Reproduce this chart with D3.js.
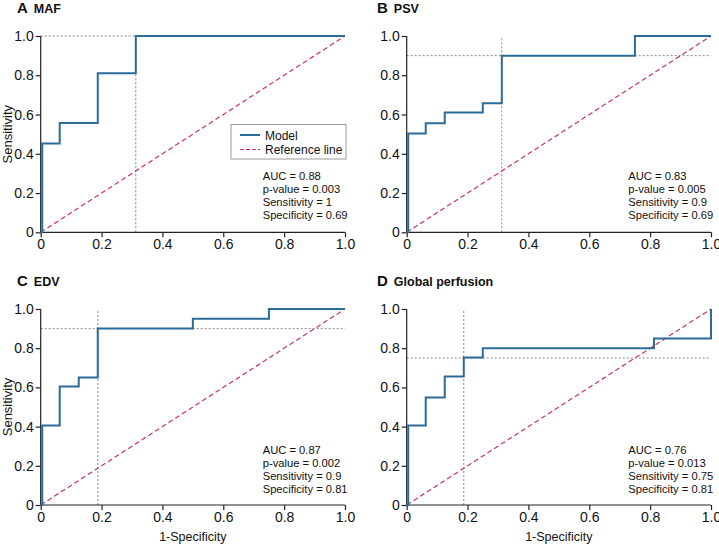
<!DOCTYPE html>
<html><head><meta charset="utf-8">
<script src="https://cdn.jsdelivr.net/npm/d3@7"></script>
<style>
body{margin:0;background:#fff;}
text{font-family:"Liberation Sans",Arial,sans-serif;}
</style></head>
<body><svg id="c" width="719" height="544"></svg>
<script>
// ---- data ----
const panelLetters = ["A","B","C","D"];
const panelTitles = ["MAF","PSV","EDV","Global perfusion"];
// ROC step points [1-specificity, sensitivity]
const rocMAF = [[0,0],[0.005,0],[0.005,0.453],[0.0625,0.453],[0.0625,0.557],[0.1875,0.557],[0.1875,0.81],[0.3125,0.81],[0.3125,1],[1,1]];
const rocPSV = [[0,0],[0.005,0],[0.005,0.503],[0.0625,0.503],[0.0625,0.555],[0.125,0.555],[0.125,0.61],[0.25,0.61],[0.25,0.657],[0.3125,0.657],[0.3125,0.9],[0.75,0.9],[0.75,1],[1,1]];
const rocEDV = [[0,0],[0.005,0],[0.005,0.405],[0.0625,0.405],[0.0625,0.604],[0.125,0.604],[0.125,0.651],[0.1875,0.651],[0.1875,0.9],[0.5,0.9],[0.5,0.95],[0.75,0.95],[0.75,1],[1,1]];
const rocGlobal = [[0,0],[0.005,0],[0.005,0.405],[0.0625,0.405],[0.0625,0.549],[0.125,0.549],[0.125,0.655],[0.1875,0.655],[0.1875,0.753],[0.25,0.753],[0.25,0.8],[0.8125,0.8],[0.8125,0.85],[1,0.85],[1,1]];
const cutX = [0.3125, 0.3125, 0.1875, 0.1875];   // 1-specificity at optimal cut-off
const cutY = [1, 0.9, 0.9, 0.75];                 // sensitivity at optimal cut-off
const aucVals = ["0.88","0.83","0.87","0.76"];
const pVals = ["0.003","0.005","0.002","0.013"];
const sensVals = ["1","0.9","0.9","0.75"];
const specVals = ["0.69","0.69","0.81","0.81"];
const tickVals = [0,0.2,0.4,0.6,0.8,1.0];
const tickLabels = ["0","0.2","0.4","0.6","0.8","1.0"];
const legendLabels = ["Model","Reference line"];
const xLabel = "1-Specificity", yLabel = "Sensitivity";

const rocs = [rocMAF, rocPSV, rocEDV, rocGlobal];
const blue = "#2b6b9b", pink = "#c8336f", grey = "#8a8a8a";

const svg = d3.select("#c");
const frames = [
  {x0:40.7,x1:345,y0:232.3,y1:36, ox:0, oy:0},
  {x0:406.7,x1:711,y0:232.3,y1:36, ox:360, oy:0},
  {x0:40.7,x1:345,y0:505,y1:309, ox:0, oy:273},
  {x0:406.7,x1:711,y0:505,y1:309, ox:360, oy:273}
];

frames.forEach((f,i)=>{
  const x = d3.scaleLinear().domain([0,1]).range([f.x0,f.x1]);
  const y = d3.scaleLinear().domain([0,1]).range([f.y0,f.y1]);
  const g = svg.append("g");

  // title
  const t = g.append("text").attr("x", f.ox+17).attr("y", f.oy+13).attr("font-weight","bold").attr("fill","#111");
  t.append("tspan").attr("font-size",15).text(panelLetters[i]);
  t.append("tspan").attr("font-size",12.5).attr("dx",6).text(panelTitles[i]);

  // dotted cut-off lines
  g.append("line").attr("x1",x(0)).attr("x2",x(1)).attr("y1",y(cutY[i])).attr("y2",y(cutY[i]))
    .attr("stroke",grey).attr("stroke-width",1).attr("stroke-dasharray","2,2");
  g.append("line").attr("x1",x(cutX[i])).attr("x2",x(cutX[i])).attr("y1",y(0)).attr("y2",y(1))
    .attr("stroke",grey).attr("stroke-width",1).attr("stroke-dasharray","2,2");

  // axes
  const xa = d3.axisBottom(x).tickValues(tickVals).tickFormat((d,k)=>tickLabels[k]).tickSize(5).tickPadding(2);
  const ya = d3.axisLeft(y).tickValues(tickVals).tickFormat((d,k)=>tickLabels[k]).tickSize(5).tickPadding(2);
  const gx = g.append("g").attr("transform",`translate(0,${f.y0})`).call(xa);
  const gy = g.append("g").attr("transform",`translate(${f.x0},0)`).call(ya);
  [gx,gy].forEach(a=>{
    a.selectAll(".tick line").attr("stroke","#222").attr("stroke-width",1.2);
    a.selectAll(".tick text").attr("font-size",14).attr("fill","#111").attr("font-family","Liberation Sans, Arial, sans-serif");
  });
  gx.select(".domain").remove(); gy.select(".domain").remove();
  g.append("line").attr("x1",f.x0).attr("x2",f.x1).attr("y1",f.y0).attr("y2",f.y0).attr("stroke","#222").attr("stroke-width",1.2);
  g.append("line").attr("x1",f.x0).attr("x2",f.x0).attr("y1",f.y0).attr("y2",f.y1).attr("stroke","#222").attr("stroke-width",1.2);

  // reference diagonal
  g.append("line").attr("x1",x(0)).attr("y1",y(0)).attr("x2",x(1)).attr("y2",y(1))
    .attr("stroke",pink).attr("stroke-width",1.2).attr("stroke-dasharray","5,3");

  // ROC curve
  const line = d3.line().x(d=>x(d[0])).y(d=>y(d[1]));
  g.append("path").datum(rocs[i]).attr("d",line).attr("fill","none")
    .attr("stroke",blue).attr("stroke-width",2);

  // stats
  const sx = f.ox + (i%2? 268.3:262.7), sy = f.oy + (i<2?180:181);
  const st = [`AUC = ${aucVals[i]}`,`p-value = ${pVals[i]}`,`Sensitivity = ${sensVals[i]}`,`Specificity = ${specVals[i]}`];
  st.forEach((s,k)=>g.append("text").attr("x",sx).attr("y",sy+k*13.1).attr("font-size",11.2).attr("fill","#111").text(s));

  // axis labels
  if(i%2===0){
    g.append("text").attr("transform",`translate(12,${(f.y0+f.y1)/2}) rotate(-90)`).attr("text-anchor","middle")
      .attr("font-size",13).attr("fill","#111").text(yLabel);
  }
  if(i>=2){
    g.append("text").attr("x",(f.x0+f.x1)/2).attr("y",541).attr("text-anchor","middle")
      .attr("font-size",12.5).attr("fill","#111").text(xLabel);
  }
});

// legend (panel A)
const lg = svg.append("g");
lg.append("rect").attr("x",231).attr("y",124.5).attr("width",115).attr("height",34.5).attr("fill","#fff")
  .attr("stroke","#9a9a9a").attr("stroke-width",1);
lg.append("line").attr("x1",240).attr("x2",260).attr("y1",135).attr("y2",135).attr("stroke",blue).attr("stroke-width",2);
lg.append("line").attr("x1",240).attr("x2",260).attr("y1",149.5).attr("y2",149.5).attr("stroke",pink).attr("stroke-width",1.2).attr("stroke-dasharray","4,2");
lg.append("text").attr("x",265).attr("y",139.5).attr("font-size",12).attr("fill","#111").text(legendLabels[0]);
lg.append("text").attr("x",265).attr("y",154).attr("font-size",12).attr("fill","#111").text(legendLabels[1]);
</script></body></html>
